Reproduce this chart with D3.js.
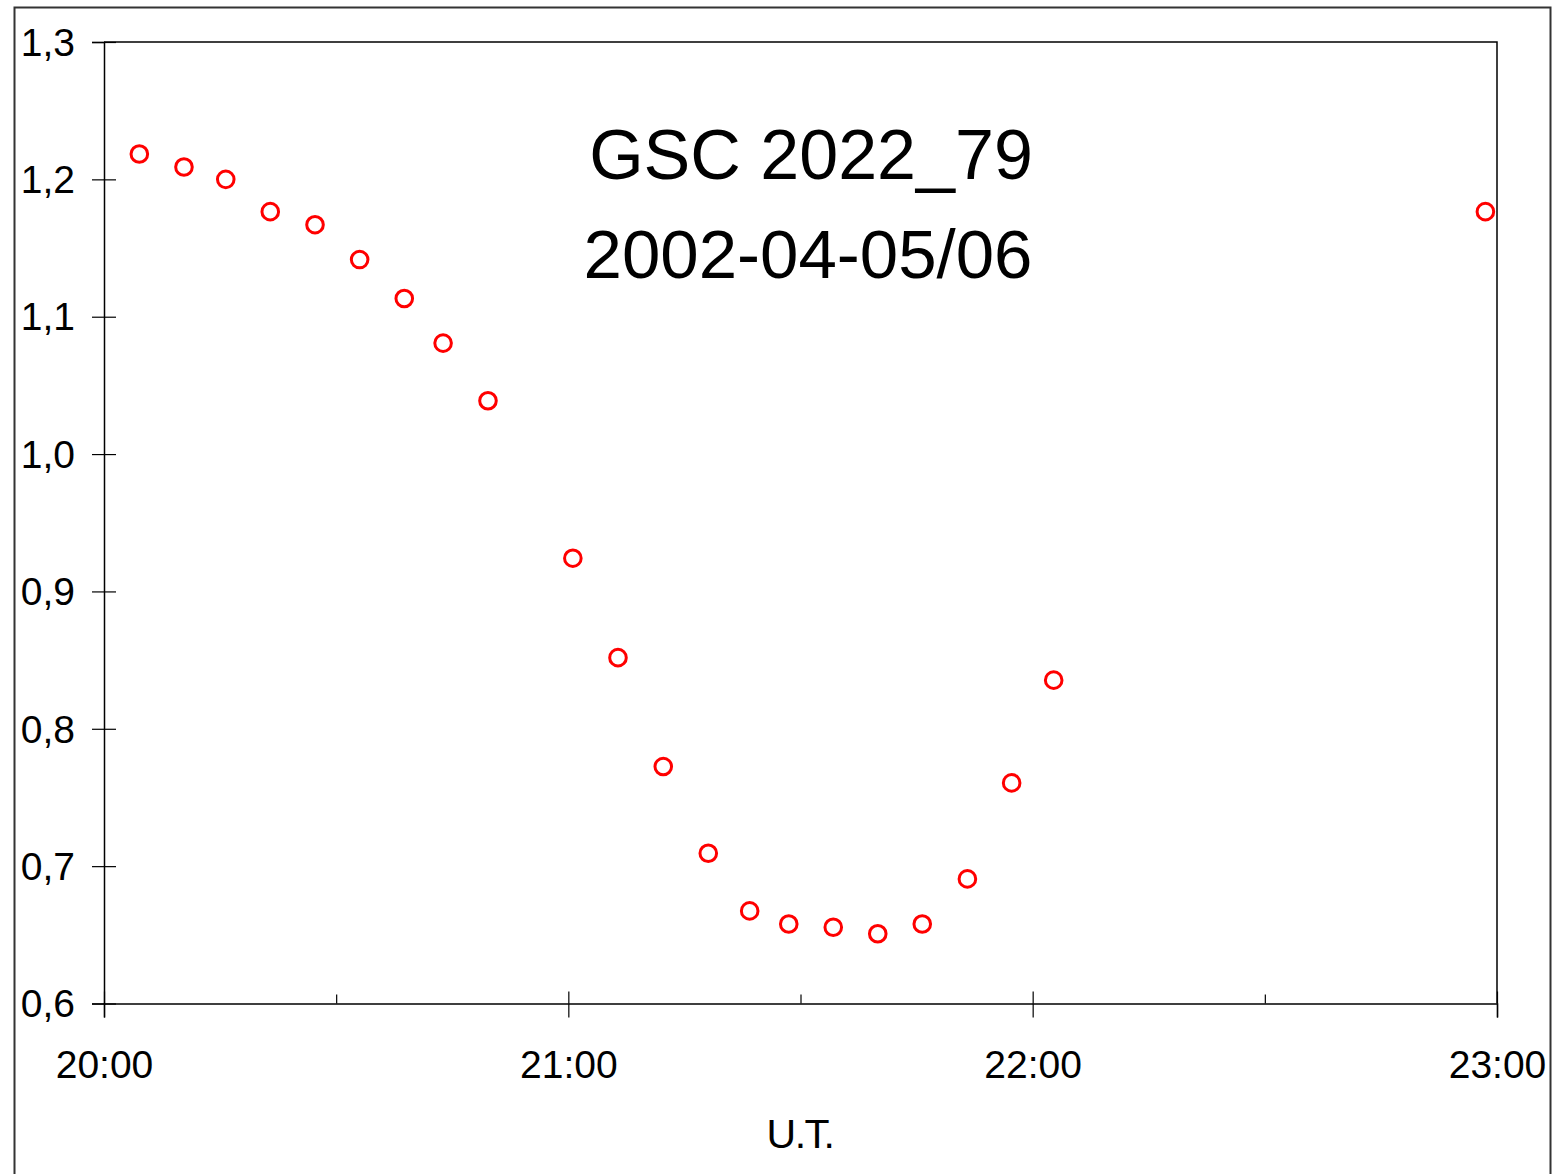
<!DOCTYPE html>
<html>
<head>
<meta charset="utf-8">
<script src="https://cdn.jsdelivr.net/npm/d3@7/dist/d3.min.js"></script>
<style>
  html, body { margin: 0; padding: 0; background: #fff; }
  svg { display: block; }
  text { font-family: "Liberation Sans", Arial, sans-serif; fill: #000; }
</style>
</head>
<body>
<svg id="chart" width="1562" height="1174"></svg>
<script>
// ---- data ----
const titleLines = ["GSC 2022_79", "2002-04-05/06"];
const xAxisTitle = "U.T.";
const times = ["20:04:34","20:10:20","20:15:44","20:21:29","20:27:16","20:33:02","20:38:48",
  "20:43:49","20:49:37","21:00:35","21:06:25","21:12:16","21:18:05","21:23:26","21:28:29",
  "21:34:14","21:39:59","21:45:44","21:51:34","21:57:17","22:02:43","22:58:30"];
const values = [1.2185,1.209,1.200,1.1765,1.167,1.1416,1.1133,1.0808,1.0388,0.9242,0.8518,
  0.7725,0.7094,0.6674,0.6579,0.6555,0.6508,0.6579,0.6907,0.7606,0.8354,1.1765];
const yTicks = [0.6,0.7,0.8,0.9,1.0,1.1,1.2,1.3];
const xMajorTicks = ["20:00","21:00","22:00","23:00"];
const xMinorTicks = ["20:30","21:30","22:30"];

(function () {
// ---- helpers ----
const parseT = s => { const p = s.split(":").map(Number); return new Date(2002,3,5,p[0],p[1],p[2]||0); };
const points = times.map((t,i) => ({t: parseT(t), v: values[i]}));

const svg = d3.select("#chart");
const pLeft = 104, pRight = 1497, pTop = 42, pBottom = 1003.5;

const x = d3.scaleTime().domain([parseT("20:00"), parseT("23:00")]).range([pLeft, pRight]);
const y = d3.scaleLinear().domain([0.6, 1.3]).range([pBottom, pTop]);

// outer frame
svg.append("rect").attr("x", 14.5).attr("y", 7.5).attr("width", 1536).attr("height", 1200)
  .attr("fill", "none").attr("stroke", "#333").attr("stroke-width", 2);

// plot box (top & right)
svg.append("path")
  .attr("d", `M${pLeft},${pTop}H${pRight}V${pBottom}`)
  .attr("fill", "none").attr("stroke", "#000").attr("stroke-width", 1.5);

// y axis: outer ticks with labels
const fmtY = d => d3.format(".1f")(d).replace(".", ",");
const gy = svg.append("g").attr("transform", `translate(${pLeft},0)`)
  .call(d3.axisLeft(y).tickValues(yTicks).tickSize(12).tickPadding(17).tickFormat(fmtY));
gy.selectAll("text").style("font-size", "39px").attr("dy", "0.34em");
// y axis: inner ticks
const gyIn = svg.append("g").attr("transform", `translate(${pLeft},0)`)
  .call(d3.axisRight(y).tickValues(yTicks).tickSize(12).tickFormat(""));
gyIn.select(".domain").remove();

// x axis: major outer ticks with labels
const fmtX = d3.timeFormat("%H:%M");
const gx = svg.append("g").attr("transform", `translate(0,${pBottom})`)
  .call(d3.axisBottom(x).tickValues(xMajorTicks.map(parseT)).tickSize(14).tickPadding(60).tickFormat(fmtX));
gx.selectAll("text").style("font-size", "39px").attr("dy", "0");
// x axis: major inner ticks
const gxIn = svg.append("g").attr("transform", `translate(0,${pBottom})`)
  .call(d3.axisTop(x).tickValues(xMajorTicks.map(parseT)).tickSize(12).tickFormat(""));
gxIn.select(".domain").remove();
// x axis: minor inner ticks
const gxMin = svg.append("g").attr("transform", `translate(0,${pBottom})`)
  .call(d3.axisTop(x).tickValues(xMinorTicks.map(parseT)).tickSize(9).tickFormat(""));
gxMin.select(".domain").remove();

svg.selectAll(".domain").attr("stroke", "#000").attr("stroke-width", 1.5);
svg.selectAll(".tick line").attr("stroke", "#000").attr("stroke-width", 1.2);

// axis title
svg.append("text").attr("x", 800).attr("y", 1148).attr("text-anchor", "middle")
  .style("font-size", "41px").style("letter-spacing", "-1.5px").text(xAxisTitle);

// chart title
svg.append("text").attr("x", 811).attr("y", 179).attr("text-anchor", "middle")
  .style("font-size", "70px").text(titleLines[0]);
svg.append("text").attr("x", 808).attr("y", 278).attr("text-anchor", "middle")
  .style("font-size", "69px").text(titleLines[1]);

// points
svg.append("g").selectAll("circle").data(points).join("circle")
  .attr("cx", d => x(d.t)).attr("cy", d => y(d.v)).attr("r", 8.3)
  .attr("fill", "none").attr("stroke", "#ff0000").attr("stroke-width", 3);
})();
</script>
</body>
</html>
